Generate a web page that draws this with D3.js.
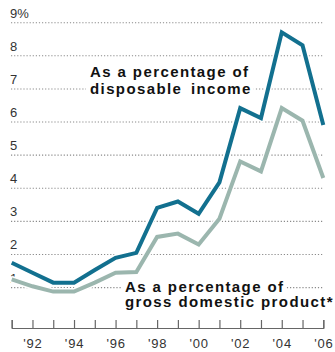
<!DOCTYPE html>
<html><head><meta charset="utf-8">
<script src="https://cdn.jsdelivr.net/npm/d3@7/dist/d3.min.js"></script>
<style>
html,body{margin:0;padding:0;background:#fff;}
svg{display:block;}
text{font-family:"Liberation Sans",Arial,Helvetica,sans-serif;}
</style></head>
<body>
<svg id="chart" width="335" height="352"></svg>
<script>
const years = [1991,1992,1993,1994,1995,1996,1997,1998,1999,2000,2001,2002,2003,2004,2005,2006];
const incomeShare = [1.75,1.45,1.15,1.15,1.53,1.90,2.05,3.41,3.60,3.23,4.18,6.42,6.12,8.71,8.32,5.91];
const gdpShare    = [1.25,1.04,0.88,0.88,1.15,1.45,1.47,2.53,2.63,2.30,3.08,4.81,4.51,6.42,6.04,4.31];
const yTicks = [1,2,3,4,5,6,7,8,9];
const yTickLabels = ["1","2","3","4","5","6","7","8","9%"];
const xTickLabels = {1992:"'92",1994:"'94",1996:"'96",1998:"'98",2000:"'00",2002:"'02",2004:"'04",2006:"'06"};
const incomeLabel = ["As a percentage of","disposable income"];
const gdpLabel = ["As a percentage of","gross domestic product*"];

const svg = d3.select("#chart");
const x = d3.scaleLinear().domain([1991,2006]).range([11.7,323.3]);
const y = d3.scaleLinear().domain([-0.22,9]).range([328,22.7]);
const axisY = y(-0.22);

// gridlines
svg.append("g").selectAll("line").data(yTicks).join("line")
  .attr("x1",11).attr("x2",324)
  .attr("y1",d=>y(d)).attr("y2",d=>y(d))
  .attr("stroke","#8a8a8a").attr("stroke-width",1.1)
  .attr("stroke-dasharray","1.2,1.9");

// y labels
svg.append("g").selectAll("text").data(yTicks).join("text")
  .attr("x",10).attr("y",(d)=>y(d)-5)
  .attr("font-size",13).attr("fill","#333")
  .text((d,i)=>yTickLabels[i]);

// label boxes
function label(lines, x0, base, lh, wordSp){
  const g = svg.append("g");
  const bg = g.append("g");
  const t = g.selectAll("text").data(lines).join("text")
    .attr("x",x0).attr("y",(d,i)=>base+i*lh)
    .attr("font-size",15).attr("font-weight","bold").attr("fill","#111")
    .attr("letter-spacing",1.4).attr("word-spacing",(d,i)=>wordSp[i])
    .text(d=>d);
  t.each(function(){
    const b = this.getBBox();
    bg.append("rect").attr("x",b.x-4).attr("y",b.y).attr("width",b.width+6).attr("height",b.height)
      .attr("fill","#fff");
  });
}
label(incomeLabel, 90, 77, 16.5, [0,3]);
label(gdpLabel, 125, 291.5, 15.5, [0,0]);

// lines
const line = d3.line().x((d,i)=>x(years[i])).y(d=>y(d)).curve(d3.curveLinear);
[[gdpShare,"#9bb6ae"],[incomeShare,"#12708f"]].forEach(([data,col])=>{
  svg.append("path").attr("d",line(data)).attr("fill","none")
    .attr("stroke","#fff").attr("stroke-width",7).attr("stroke-linejoin","miter");
  svg.append("path").attr("d",line(data)).attr("fill","none")
    .attr("stroke",col).attr("stroke-width",4).attr("stroke-linejoin","miter");
});

// x axis
const ax = d3.axisBottom(x).tickValues(years).tickSizeInner(-8).tickSizeOuter(-8)
  .tickFormat(d=>xTickLabels[d]||"");
const gx = svg.append("g").attr("transform",`translate(0,${axisY})`).call(ax);
gx.select(".domain").attr("stroke","#666").attr("stroke-width",1.2);
gx.selectAll(".tick line").attr("stroke","#666").attr("stroke-width",1.2);
gx.selectAll(".tick text").attr("font-size",13).attr("fill","#333").attr("letter-spacing",0.8)
  .attr("font-family","'Liberation Sans',Arial,sans-serif").attr("dy",null).attr("y",20);
</script>
</body></html>
